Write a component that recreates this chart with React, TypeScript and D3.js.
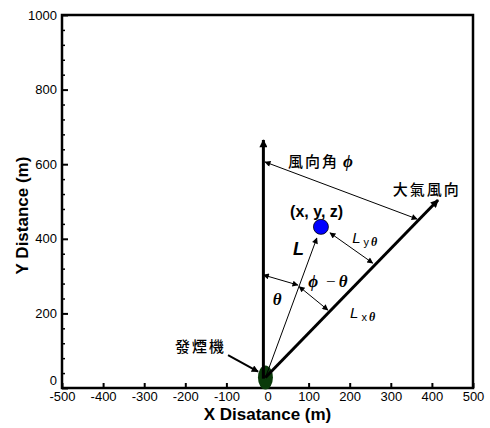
import React, { useEffect, useRef } from "react";
import * as d3 from "d3";

// axis ticks
const xTickValues = [-500, -400, -300, -200, -100, 0, 100, 200, 300, 400, 500];
const yTickValues = [0, 200, 400, 600, 800, 1000];
const yMinorTicks = [40, 80, 120, 160, 240, 280, 320, 360, 440, 480, 520, 560, 640, 680, 720, 760, 840, 880, 920, 960];

// diagram points (data units, metres)
const source = [-5, 28];
const receptor = [130, 432];
const northLine = [[-10, 25], [-10, 665]];
const windLine = [[-5, 28], [415, 504]];
const lLine = [[-5, 28], [120, 402]];
const smokePointer = [[-96, 88], [-23, 44]];

// double headed dimension arrows
const dimFrom = [[-6, 606], [152, 416], [-10, 303], [77, 272]];
const dimTo = [[364, 453], [256, 335], [74, 276], [147, 209]];

// annotation texts
const cjkLabels = ["風向角", "大氣風向", "發煙機"];
const cjkPos = [[50, 592], [305, 517], [-225, 97]];

const W = 490, H = 428;
const margin = { top: 15, right: 17, bottom: 40, left: 62 };

export default function App() {
  const gx = useRef<SVGGElement>(null);
  const gy = useRef<SVGGElement>(null);
  const gy2 = useRef<SVGGElement>(null);

  const x = d3.scaleLinear().domain([-500, 500]).range([margin.left, W - margin.right]);
  const y = d3.scaleLinear().domain([0, 1000]).range([H - margin.bottom, margin.top]);

  useEffect(() => {
    const axX = d3.select(gx.current!)
      .call(d3.axisBottom(x).tickValues(xTickValues).tickSize(-5).tickPadding(4).tickFormat(d => String(d)));
    axX.select(".domain").remove();
    axX.selectAll("line").attr("stroke-width", 2);

    const axY = d3.select(gy.current!)
      .call(d3.axisLeft(y).tickValues(yTickValues).tickSize(-6).tickPadding(5).tickFormat(d => String(d)));
    axY.select(".domain").remove();
    axY.selectAll("line").attr("stroke-width", 2);
    // the "0" sits just above the x labels
    axY.selectAll<SVGTextElement, number>("text").filter(d => d === 0).attr("dy", "-0.25em");

    const axY2 = d3.select(gy2.current!)
      .call(d3.axisLeft(y).tickValues(yMinorTicks).tickSize(-3).tickFormat(() => ""));
    axY2.select(".domain").remove();
    axY2.selectAll("line").attr("stroke-width", 1.5);

    d3.selectAll(".tickaxis text")
      .attr("font-family", "'Liberation Sans', Arial, sans-serif")
      .attr("font-size", 13)
      .attr("fill", "#000");
  }, []);

  const line = d3.line<number[]>().x(d => x(d[0])).y(d => y(d[1]));
  const sans = "'Liberation Sans', Arial, sans-serif";
  const greek = "'Liberation Serif', 'DejaVu Serif', serif";
  const cjk = "'Noto Sans CJK TC', sans-serif";

  return (
    <svg width={W} height={H} style={{ position: "absolute", left: 0, top: 0, background: "#fff" }}>
      <defs>
        <marker id="thin" viewBox="0 0 10 10" refX="9" refY="5" markerWidth="9" markerHeight="6"
          markerUnits="userSpaceOnUse" orient="auto-start-reverse">
          <path d="M0,0 L10,5 L0,10 z" fill="#000" />
        </marker>
        <marker id="mid" viewBox="0 0 10 10" refX="9" refY="5" markerWidth="10" markerHeight="7"
          markerUnits="userSpaceOnUse" orient="auto">
          <path d="M0,0 L10,5 L0,10 z" fill="#000" />
        </marker>
        <marker id="thick" viewBox="0 0 10 10" refX="9" refY="5" markerWidth="13" markerHeight="8"
          markerUnits="userSpaceOnUse" orient="auto">
          <path d="M0,0 L10,5 L0,10 z" fill="#000" />
        </marker>
      </defs>

      <rect x={margin.left} y={margin.top} width={W - margin.left - margin.right}
        height={H - margin.top - margin.bottom} fill="none" stroke="#000" strokeWidth={2.5} />

      <g ref={gx} className="tickaxis" transform={`translate(0,${H - margin.bottom})`} />
      <g ref={gy} className="tickaxis" transform={`translate(${margin.left},0)`} />
      <g ref={gy2} transform={`translate(${margin.left},0)`} />

      <text x={(margin.left + W - margin.right) / 2} y={420} textAnchor="middle"
        fontFamily={sans} fontWeight="bold" fontSize={17}>X Disatance (m)</text>
      <text transform={`translate(28,${(margin.top + H - margin.bottom) / 2 + 14}) rotate(-90)`}
        textAnchor="middle" fontFamily={sans} fontWeight="bold" fontSize={17}>Y Distance (m)</text>

      {/* smoke generator */}
      <ellipse cx={x(source[0])} cy={y(source[1])} rx={7.5} ry={12} fill="#0a3a0a" />

      <path d={line(northLine)!} stroke="#000" strokeWidth={3} fill="none" markerEnd="url(#thick)" />
      <path d={line(windLine)!} stroke="#000" strokeWidth={3} fill="none" markerEnd="url(#thick)" />
      <path d={line(lLine)!} stroke="#000" strokeWidth={1} fill="none" markerEnd="url(#thin)" />
      <path d={line(smokePointer)!} stroke="#000" strokeWidth={2} fill="none" markerEnd="url(#mid)" />

      {dimFrom.map((p, i) => (
        <path key={i} d={line([p, dimTo[i]])!} stroke="#000" strokeWidth={1} fill="none"
          markerStart="url(#thin)" markerEnd="url(#thin)" />
      ))}

      <circle cx={x(receptor[0])} cy={y(receptor[1])} r={7.5} fill="#0000ff" stroke="#000" strokeWidth={0.8} />

      {cjkLabels.map((t, i) => (
        <text key={t} x={x(cjkPos[i][0])} y={y(cjkPos[i][1])} fontFamily={cjk} fontSize={15}
          fontWeight={500} letterSpacing={2}>{t}</text>
      ))}
      <text x={x(50) + 55} y={y(592)} fontFamily={greek} fontStyle="italic" fontWeight="bold" fontSize={17}>ϕ</text>

      <text x={x(55)} y={y(458)} fontFamily={sans} fontWeight="bold" fontSize={16}>(x, y, z)</text>
      <text x={x(62)} y={y(357)} fontFamily={sans} fontWeight="bold" fontStyle="italic" fontSize={18}>L</text>

      <text x={x(206)} y={y(389)} fontFamily={sans} fontStyle="italic" fontSize={15}>
        L<tspan dx={3} dy={3} fontSize={11} fontStyle="normal">y</tspan>
        <tspan dx={2} fontFamily={greek} fontWeight="bold" fontSize={12}>θ</tspan>
      </text>
      <text x={x(201)} y={y(188)} fontFamily={sans} fontStyle="italic" fontSize={15}>
        L<tspan dx={3} dy={3} fontSize={11} fontStyle="normal">x</tspan>
        <tspan dx={2} fontFamily={greek} fontWeight="bold" fontSize={12}>θ</tspan>
      </text>

      <text x={x(99)} y={y(271)} fontFamily={greek} fontStyle="italic" fontWeight="bold" fontSize={17}>
        ϕ<tspan dx={8} fontStyle="normal" fontWeight="normal">−</tspan><tspan dx={3}>θ</tspan>
      </text>
      <text x={x(13)} y={y(222)} fontFamily={greek} fontStyle="italic" fontWeight="bold" fontSize={17}>θ</text>
    </svg>
  );
}
